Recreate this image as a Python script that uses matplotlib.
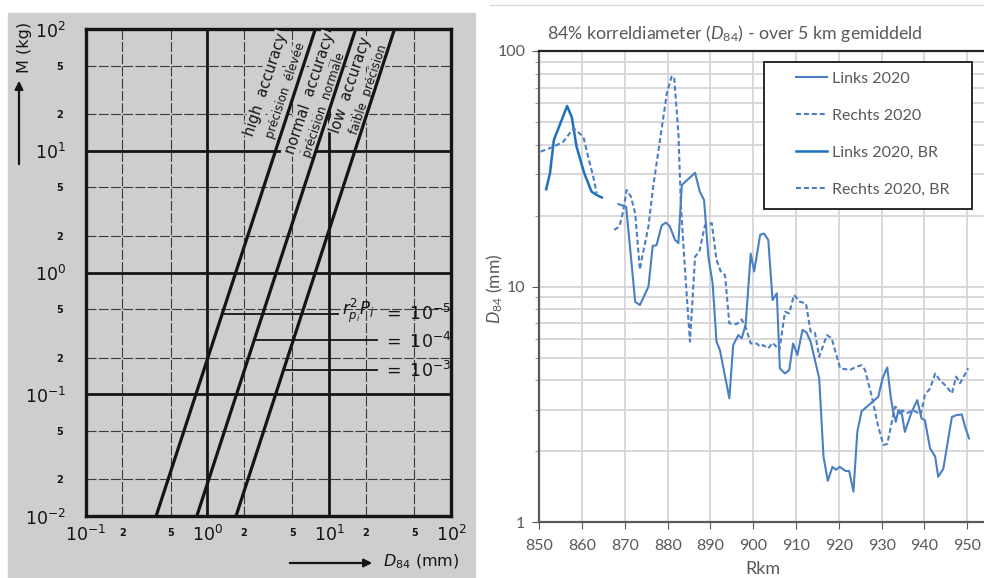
import matplotlib.pyplot as plt
from matplotlib.patches import Rectangle
from matplotlib.lines import Line2D
from matplotlib.ticker import LogLocator, NullFormatter

plt.rcParams['font.family'] = ['Lato', 'DejaVu Sans']
plt.rcParams['mathtext.fontset'] = 'dejavusans'
plt.rcParams['mathtext.rm'] = 'Lato'
plt.rcParams['mathtext.it'] = 'Lato:italic'

# ---------------- left: nomogram data
acc_M = [0.01, 100]                       # end points of every accuracy line (kg)
acc_D = {'high': [0.38, 7.7],             # D84 (mm) at those masses
         'normal': [0.82, 16.5],
         'low': [1.72, 34.4]}
pp_text = [r'$=\ 10^{-5}$', r'$=\ 10^{-4}$', r'$=\ 10^{-3}$']
pp_M = [0.456, 0.279, 0.158]
pp_D_from = [1.31, 2.42, 4.23]
pp_D_to = [11.9, 24.7, 24.7]
x_major = [0.1, 1, 10, 100]
x_major_lbl = [r'$10^{-1}$', r'$10^{0}$', r'$10^{1}$', r'$10^{2}$']
x_minor = [0.2, 0.5, 2, 5, 20, 50]
y_major = [0.01, 0.1, 1, 10, 100]
y_major_lbl = [r'$10^{-2}$', r'$10^{-1}$', r'$10^{0}$', r'$10^{1}$', r'$10^{2}$']
y_minor = [0.02, 0.05, 0.2, 0.5, 2, 5, 20, 50]
minor_lbl = ['2', '5']

# ---------------- right: D84 along the river (Rkm)
links_br_km = [851.6, 852.5, 853.4, 856.5, 857.6, 858.7, 860.5, 862.2, 863.4, 864.6]
links_br_d = [25.9, 30.3, 41.9, 58.4, 52.3, 39.3, 30.3, 25.3, 24.5, 23.9]
rechts_br_km = [850.3, 853.4, 855.6, 858.0, 860.3, 861.4, 862.6, 863.4]
rechts_br_d = [37.4, 39.3, 41.2, 47.0, 43.3, 35.6, 29.3, 24.9]

links_km = [868.5, 870.3, 872.4, 873.5, 875.5, 876.5, 877.4, 878.6, 879.6, 880.5,
            881.7, 882.5, 883.3, 886.4, 887.5, 888.5, 889.5, 890.5, 891.4, 892.2,
            894.4, 895.3, 896.5, 897.3, 898.2, 899.4, 900.2, 901.6, 902.5, 903.5,
            904.5, 905.5, 906.2, 907.4, 908.4, 909.3, 910.3, 911.5, 912.4, 913.4,
            914.4, 915.4, 916.4, 917.4, 918.5, 919.3, 920.2, 921.6, 922.4, 923.4,
            924.3, 925.3, 927.3, 929.2, 930.2, 931.3, 932.1, 932.7, 933.3, 933.9,
            934.7, 935.4, 937.0, 938.3, 939.3, 940.1, 941.3, 942.5, 943.2, 944.4,
            946.4, 947.5, 948.7, 949.5, 950.4]
links_d = [22.4, 21.8, 8.63, 8.35, 10.0, 14.9, 15.0, 18.2, 18.7, 18.0,
           15.8, 15.3, 27.0, 30.4, 25.3, 23.3, 13.4, 10.3, 5.84, 5.38,
           3.36, 5.65, 6.23, 6.04, 6.87, 13.8, 11.6, 16.6, 16.8, 15.8,
           8.77, 9.37, 4.50, 4.28, 4.43, 5.74, 5.13, 6.55, 6.40, 5.84,
           4.88, 4.08, 1.90, 1.50, 1.72, 1.67, 1.72, 1.65, 1.65, 1.35,
           2.42, 2.96, 3.18, 3.41, 4.08, 4.54, 3.41, 2.94, 2.67, 2.99,
           2.90, 2.42, 2.94, 3.30, 2.76, 2.71, 2.06, 1.90, 1.56, 1.69,
           2.80, 2.85, 2.87, 2.54, 2.27]

rechts_km = [867.5, 868.7, 869.5, 870.4, 871.4, 872.4, 873.5, 873.9, 875.5, 876.6,
             878.2, 879.8, 880.9, 881.5, 882.5, 883.1, 884.0, 885.2, 886.4, 887.4,
             888.7, 890.3, 891.4, 892.4, 893.4, 894.4, 896.1, 897.3, 898.3, 899.4,
             900.8, 901.6, 902.3, 903.5, 904.5, 906.1, 907.4, 908.4, 909.5, 910.9,
             912.3, 913.4, 914.4, 915.4, 917.2, 918.3, 920.3, 922.6, 924.0, 925.3,
             926.1, 927.7, 929.2, 930.4, 931.3, 932.3, 933.1, 933.9, 934.3, 934.8,
             935.8, 937.4, 939.1, 940.1, 941.3, 942.5, 943.6, 945.2, 946.4, 947.4,
             948.3, 950.2]
rechts_d = [17.4, 18.0, 20.5, 25.7, 24.1, 20.5, 11.8, 13.0, 18.0, 26.5,
            41.9, 66.1, 77.8, 77.8, 44.7, 21.8, 12.1, 5.84, 13.4, 14.1,
            18.2, 18.6, 13.0, 11.6, 11.2, 6.98, 6.93, 7.26, 6.65, 5.74,
            5.74, 5.56, 5.65, 5.47, 5.78, 5.38, 7.82, 7.71, 9.21, 8.63,
            8.49, 6.44, 6.37, 5.04, 6.23, 6.04, 4.50, 4.43, 4.57, 4.64,
            4.43, 3.41, 2.54, 2.13, 2.15, 2.63, 3.09, 3.05, 2.86, 2.99,
            2.90, 2.99, 2.86, 3.47, 3.70, 4.28, 4.01, 3.76, 3.52, 4.15,
            3.89, 4.50]

W, H = 984, 578
fig = plt.figure(figsize=(W / 100, H / 100), dpi=100)
grey = '#cecece'
ink = '#151515'
fig.patches.append(Rectangle((8 / W, 0), 467 / W, 565 / H, transform=fig.transFigure,
                             color=grey, zorder=-1))

# ================= left panel
ax = fig.add_axes([85.5 / W, (H - 516) / H, 365.5 / W, 487 / H])
ax.set_facecolor(grey)
ax.set_xscale('log')
ax.set_yscale('log')
ax.set_xlim(0.1, 100)
ax.set_ylim(0.01, 100)
ax.set_xticks(x_major, labels=x_major_lbl)
ax.set_xticks(x_minor, labels=minor_lbl * 3, minor=True)
ax.set_yticks(y_major, labels=y_major_lbl)
ax.set_yticks(y_minor, labels=minor_lbl * 4, minor=True)
ax.tick_params(which='both', length=0, colors=ink)
ax.tick_params(axis='x', which='major', labelsize=12.5, pad=6)
ax.tick_params(axis='x', which='minor', labelsize=7, pad=9)
ax.tick_params(axis='y', which='major', labelsize=12.5, pad=14)
ax.tick_params(axis='y', which='minor', labelsize=7, pad=16)
for lbl in ax.get_xticklabels(minor=True) + ax.get_yticklabels(minor=True):
    lbl.set_fontweight('bold')
    lbl.set_family('DejaVu Sans')
ax.grid(which='major', color=ink, lw=2.0)
ax.grid(which='minor', color='#3a3a3a', lw=0.8, ls=(0, (9, 2)))
for s in ax.spines.values():
    s.set_linewidth(2.4)
    s.set_color(ink)

for key in ['high', 'normal', 'low']:
    ax.plot(acc_D[key], acc_M, color=ink, lw=2.3, zorder=5, solid_capstyle='butt')

lab_kw = dict(transform=ax.transAxes, rotation=71.6, rotation_mode='anchor',
              ha='center', va='center', color=ink, zorder=4, family='DejaVu Sans',
              bbox=dict(fc=grey, ec='none', pad=1.0))
ax.text(0.494, 0.886, 'high  accuracy', fontsize=10.5, **lab_kw)
ax.text(0.548, 0.873, 'précision  élevée', fontsize=8.5, **lab_kw)
ax.text(0.613, 0.867, 'normal  accuracy', fontsize=10.5, **lab_kw)
ax.text(0.653, 0.845, 'précision  normale', fontsize=8.5, **lab_kw)
ax.text(0.726, 0.885, 'low  accuracy', fontsize=10.5, **lab_kw)
ax.text(0.776, 0.875, 'faible  précision', fontsize=8.5, **lab_kw)

for m, d0, d1 in zip(pp_M, pp_D_from, pp_D_to):
    ax.plot([d0, d1], [m, m], color=ink, lw=1.3, zorder=5)
ty = [0.417, 0.359, 0.300]
for y, t in zip(ty, pp_text):
    ax.text(0.815, y, t, transform=ax.transAxes, fontsize=12.5, color=ink,
            ha='left', va='center', zorder=6)
ax.text(0.79, 0.422, r'$r^{2}_{p_i}P_i$', transform=ax.transAxes, fontsize=12,
        color=ink, ha='right', va='center', zorder=6)

ax.annotate('', xy=(19 / W, 1 - 78 / H), xytext=(19 / W, 1 - 167 / H),
            xycoords='figure fraction', textcoords='figure fraction',
            arrowprops=dict(arrowstyle='-|>', lw=1.6, color=ink, mutation_scale=12))
fig.text(25 / W, 1 - 47 / H, 'M (kg)', rotation=90, ha='center', va='center',
         fontsize=11.5, color=ink, family='DejaVu Sans')
ax.annotate('', xy=(375 / W, 1 - 563 / H), xytext=(287 / W, 1 - 563 / H),
            xycoords='figure fraction', textcoords='figure fraction',
            arrowprops=dict(arrowstyle='-|>', lw=1.6, color=ink, mutation_scale=12))
fig.text(383 / W, 1 - 562 / H, r'$D_{84}$ (mm)', ha='left', va='center',
         fontsize=11.5, color=ink, family='DejaVu Sans')

# ================= right panel
blue = '#4a7fc4'
blue_br = '#1f6fbf'
grey_txt = '#595959'
ax2 = fig.add_axes([539.3 / W, (H - 522.3) / H, (W - 539.3) / W, 471.3 / H])
ax2.set_yscale('log')
ax2.set_xlim(850, 850 + (W - 539.3) / 4.28)
ax2.set_ylim(1, 100)
ax2.set_xticks(range(850, 951, 10))
ax2.set_yticks([1, 10, 100], labels=['1', '10', '100'])
ax2.yaxis.set_minor_locator(LogLocator(subs=range(2, 10)))
ax2.yaxis.set_minor_formatter(NullFormatter())
ax2.grid(which='both', color='#d6d6d6', lw=1.3)
ax2.set_axisbelow(True)
ax2.tick_params(which='major', length=5, color=grey_txt, labelcolor=grey_txt,
                labelsize=11.5)
ax2.tick_params(axis='x', which='major', pad=7)
ax2.tick_params(axis='y', which='major', pad=5)
ax2.tick_params(axis='y', which='minor', length=3, color='#8c8c8c')
ax2.spines['right'].set_visible(False)
ax2.spines['top'].set_color('#262626')
ax2.spines['top'].set_linewidth(1.6)
for s in ['left', 'bottom']:
    ax2.spines[s].set_color(grey_txt)
    ax2.spines[s].set_linewidth(1.6)

dash = (0, (2.4, 1.4))
ax2.plot(links_km, links_d, color=blue, lw=1.5, label='Links 2020')
ax2.plot(rechts_km, rechts_d, color=blue, lw=1.5, ls=dash, label='Rechts 2020')
ax2.plot(links_br_km, links_br_d, color=blue_br, lw=1.8, label='Links 2020, BR')
ax2.plot(rechts_br_km, rechts_br_d, color=blue, lw=1.5, ls=dash, label='Rechts 2020, BR')

ax2.add_patch(Rectangle((0.505, 0.665), 0.468, 0.312, transform=ax2.transAxes,
                        fc='white', ec='#1a1a1a', lw=1.3, zorder=4))


def make_legend(anchor, spacing):
    lg = ax2.legend(loc='upper left', bbox_to_anchor=anchor, frameon=False,
                    fontsize=11.5, labelspacing=spacing, handlelength=1.95,
                    handletextpad=0.3, borderpad=0, borderaxespad=0,
                    labelcolor=grey_txt)
    lg.set_zorder(5)
    return lg


# legend rows sit at y = 79, 117, 154, 191 px, text starts at x = 832 px
spacing = 1.4
anchor = (0.577, 0.958)
leg = make_legend(anchor, spacing)
fig.canvas.draw()
ext = [t.get_window_extent() for t in leg.get_texts()]
row = (ext[0].y0 + ext[0].y1 - ext[3].y0 - ext[3].y1) / 6
spacing += (37 - row) / (11.5 * 100 / 72)
leg = make_legend(anchor, spacing)
fig.canvas.draw()
e0 = leg.get_texts()[0].get_window_extent()
dx = (832 - e0.x0) / ax2.bbox.width
dy = ((H - 79) - (e0.y0 + e0.y1) / 2) / ax2.bbox.height
leg = make_legend((anchor[0] + dx, anchor[1] + dy), spacing)

fig.text(735 / W, 1 - 33 / H, r'84% korreldiameter ($D_{84}$) - over 5 km gemiddeld',
         ha='center', va='center', fontsize=12.8, color=grey_txt, math_fontfamily='custom')
fig.text(763 / W, 1 - 569 / H, 'Rkm', ha='center', va='center', fontsize=13,
         color=grey_txt)
fig.text(495 / W, 1 - 289 / H, r'$D_{84}$ (mm)', rotation=90, ha='center', va='center',
         fontsize=12.5, color=grey_txt, math_fontfamily='custom')
fig.add_artist(Line2D([490 / W, 1], [1 - 5 / H, 1 - 5 / H], color='#d9d9d9', lw=1))

fig.savefig('out.png', dpi=100)
